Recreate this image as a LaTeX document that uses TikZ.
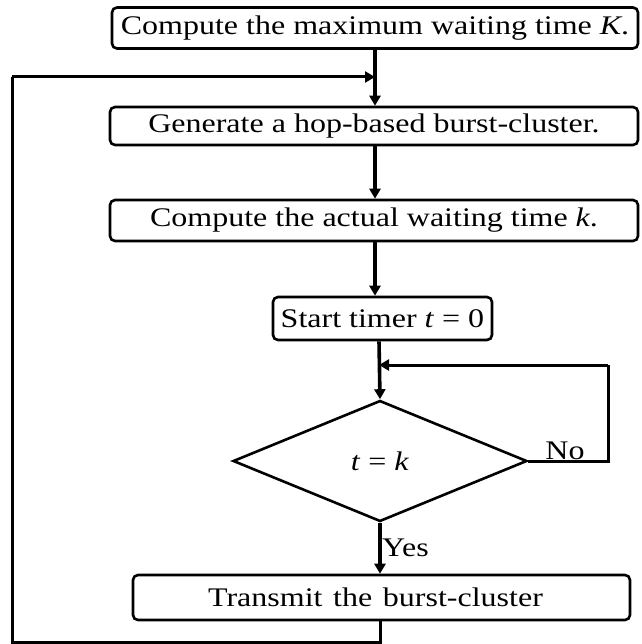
\documentclass[tikz,border=0pt]{standalone}
\usepackage{fontspec}
\setmainfont{Liberation Serif}
\usetikzlibrary{shapes.geometric,arrows.meta}
\newcommand{\sq}[1]{\scalebox{1}[0.84]{#1}}
\begin{document}
\begin{tikzpicture}[x=1pt,y=-1pt,
  box/.style={draw,line width=2.6pt,rounded corners=5pt,inner sep=0pt,font=\fontsize{32}{36}\selectfont},
  arr/.style={line width=3.6pt,-{Triangle[length=10pt,width=11pt]}},
  lin/.style={line width=3pt},
  lbl/.style={inner sep=0pt,font=\fontsize{32}{36}\selectfont}]
\useasboundingbox (0,0) rectangle (641,644);
\node[box,minimum width=526pt,minimum height=41pt] (b1) at (375,28) {\sq{Compute the maximum waiting time \textit{K}.}};
\node[box,minimum width=528pt,minimum height=38pt] (b2) at (374,126) {\sq{Generate a hop-based burst-cluster.}};
\node[box,minimum width=528pt,minimum height=41pt] (b3) at (374,220.5) {\sq{Compute the actual waiting time \textit{k}.}};
\node[box,minimum width=219pt,minimum height=43pt] (b4) at (382.5,318.5) {\sq{Start timer \textit{t} = 0}};
\node[draw,diamond,line width=2.6pt,inner sep=0pt,minimum width=294pt,minimum height=121pt,aspect=2.43,font=\fontsize{32}{36}\selectfont] (d) at (380,461) {\sq{\textit{t} = \textit{k}}};
\node[box,minimum width=497pt,minimum height=45pt,text width=497pt,align=center] (b5) at (381.5,597.5) {\hspace*{-12pt}\sq{Transmit the burst-cluster}};
\node[lbl,anchor=base] (no) at (565,459) {\sq{No}};
\node[lbl,anchor=west] (yes) at (382,548) {\sq{Yes}};
\coordinate (j1) at (375,77);
\coordinate (j2) at (379,365);
\coordinate (c1) at (380,642);
\coordinate (c2) at (12,642);
\coordinate (c3) at (12,77);
\coordinate (n1) at (608,461);
\coordinate (n2) at (608,365);
\draw[arr] (b1.south -| j1) -- (b2.north -| j1);
\draw[arr] (b2.south -| j1) -- (b3.north -| j1);
\draw[arr] (b3.south -| j1) -- (b4.north -| j1);
\draw[arr] (b4.south -| j2) -- (d.north);
\draw[arr] (d.south) -- (b5.north -| d.south);
\draw[lin] (d.east) -- (n1) -- (n2);
\draw[lin,-{Triangle[length=10pt,width=11pt]}] (n2) -- (j2);
\draw[lin] (b5.south -| c1) -- (c1) -- (c2) -- (c3);
\draw[lin,-{Triangle[length=10pt,width=11pt]}] (c3) -- (j1);
\end{tikzpicture}
\end{document}
